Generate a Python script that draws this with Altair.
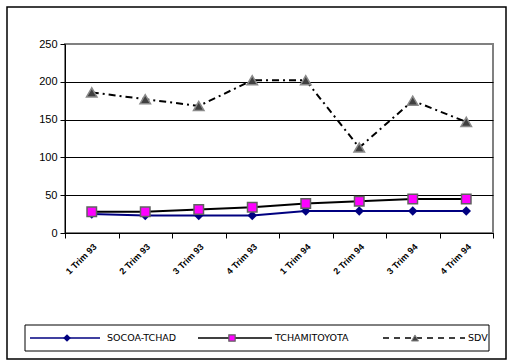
import altair as alt
import pandas as pd

quarters = ["1 Trim 93", "2 Trim 93", "3 Trim 93", "4 Trim 93",
            "1 Trim 94", "2 Trim 94", "3 Trim 94", "4 Trim 94"]
socoa = [25, 23, 23, 23, 29, 29, 29, 29]
tchami = [28, 28, 31, 34, 39, 42, 45, 45]
sdv = [186, 177, 168, 202, 202, 113, 175, 147]
series_names = ["SOCOA-TCHAD", "TCHAMITOYOTA", "SDV"]
y_ticks = [0, 50, 100, 150, 200, 250]

W, H = 428, 189

def frame(vals):
    return pd.DataFrame({"q": quarters, "v": vals})

xenc = alt.X("q:N", sort=quarters, title=None,
             scale=alt.Scale(type="band", paddingInner=0, paddingOuter=0),
             axis=alt.Axis(labelAngle=-45, tickBand="extent", domainColor="black",
                           tickColor="black", tickSize=5, labelFontSize=9,
                           labelFont="Liberation Sans", labelFontWeight="bold",
                           labelColor="black", labelPadding=4))
yenc = alt.Y("v:Q", title=None,
             scale=alt.Scale(domain=[0, 250], nice=False),
             axis=alt.Axis(values=y_ticks, grid=True,
                           gridColor={"condition": {"test": "datum.value === 250", "value": "#808080"}, "value": "black"},
                           gridWidth=1, domainColor="black", tickColor="black",
                           tickSize=5, labelFontSize=11, labelFont="Liberation Sans",
                           labelColor="black", labelPadding=3))

one = pd.DataFrame({"a": [0]})

outer = alt.Chart(one).mark_rect(fill=None, stroke="black", strokeWidth=1.5, clip=False).encode(
    x=alt.value(-58), x2=alt.value(441), y=alt.value(-37), y2=alt.value(315))

sdv_line = alt.Chart(frame(sdv)).mark_line(color="black", strokeWidth=2, strokeDash=[7, 4, 2, 4]).encode(x=xenc, y=yenc)
sdv_pts = alt.Chart(frame(sdv)).mark_point(shape="triangle-up", filled=True, fill="#404040",
                                           stroke="#8a8a8a", strokeWidth=1.5, size=110, opacity=1).encode(x=xenc, y=yenc)
so_line = alt.Chart(frame(socoa)).mark_line(color="#000080", strokeWidth=2).encode(x=xenc, y=yenc)
so_pts = alt.Chart(frame(socoa)).mark_point(shape="diamond", filled=True, fill="#000080",
                                            size=90, opacity=1).encode(x=xenc, y=yenc)
tc_line = alt.Chart(frame(tchami)).mark_line(color="black", strokeWidth=2).encode(x=xenc, y=yenc)
tc_pts = alt.Chart(frame(tchami)).mark_point(shape="square", filled=True, fill="#FF00FF",
                                             stroke="#606060", strokeWidth=1.5, size=90, opacity=1).encode(x=xenc, y=yenc)

# legend
ly = 294
leg_box = alt.Chart(one).mark_rect(fill="white", stroke="black", strokeWidth=1).encode(
    x=alt.value(-40), x2=alt.value(424), y=alt.value(281), y2=alt.value(307))
l1 = alt.Chart(one).mark_rule(color="#000080", strokeWidth=1.5).encode(
    x=alt.value(-35), x2=alt.value(35), y=alt.value(ly))
p1 = alt.Chart(one).mark_point(shape="diamond", filled=True, fill="#000080", size=60, opacity=1).encode(
    x=alt.value(2), y=alt.value(ly))
t1 = alt.Chart(one).mark_text(text=series_names[0], align="left", baseline="middle", fontSize=9.5,
                              font="DejaVu Sans", color="black").encode(x=alt.value(42), y=alt.value(ly))
l2 = alt.Chart(one).mark_rule(color="black", strokeWidth=1.5).encode(
    x=alt.value(133), x2=alt.value(207), y=alt.value(ly))
p2 = alt.Chart(one).mark_point(shape="square", filled=True, fill="#FF00FF", stroke="#606060",
                               strokeWidth=1.2, size=40, opacity=1).encode(x=alt.value(167), y=alt.value(ly))
t2 = alt.Chart(one).mark_text(text=series_names[1], align="left", baseline="middle", fontSize=9.5,
                              font="DejaVu Sans", color="black").encode(x=alt.value(210), y=alt.value(ly))
l3 = alt.Chart(one).mark_rule(color="black", strokeWidth=1.5, strokeDash=[6, 5]).encode(
    x=alt.value(318), x2=alt.value(400), y=alt.value(ly))
p3 = alt.Chart(one).mark_point(shape="triangle-up", filled=True, fill="#404040", stroke="#8a8a8a",
                               strokeWidth=1, size=50, opacity=1).encode(x=alt.value(350), y=alt.value(ly))
t3 = alt.Chart(one).mark_text(text=series_names[2], align="left", baseline="middle", fontSize=9.5,
                              font="DejaVu Sans", color="black").encode(x=alt.value(403), y=alt.value(ly))

chart = alt.layer(
    outer, sdv_line, sdv_pts, so_line, so_pts, tc_line, tc_pts,
    leg_box, l1, p1, t1, l2, p2, t2, l3, p3, t3
).properties(
    width=W, height=H,
    autosize=alt.AutoSizeParams(type="none"),
    padding={"left": 65, "top": 44, "right": 14, "bottom": 127},
    background="white",
).configure_view(
    stroke="#808080", strokeWidth=2
)

chart.save("out.html", embed_options={"renderer": "svg", "actions": False})
